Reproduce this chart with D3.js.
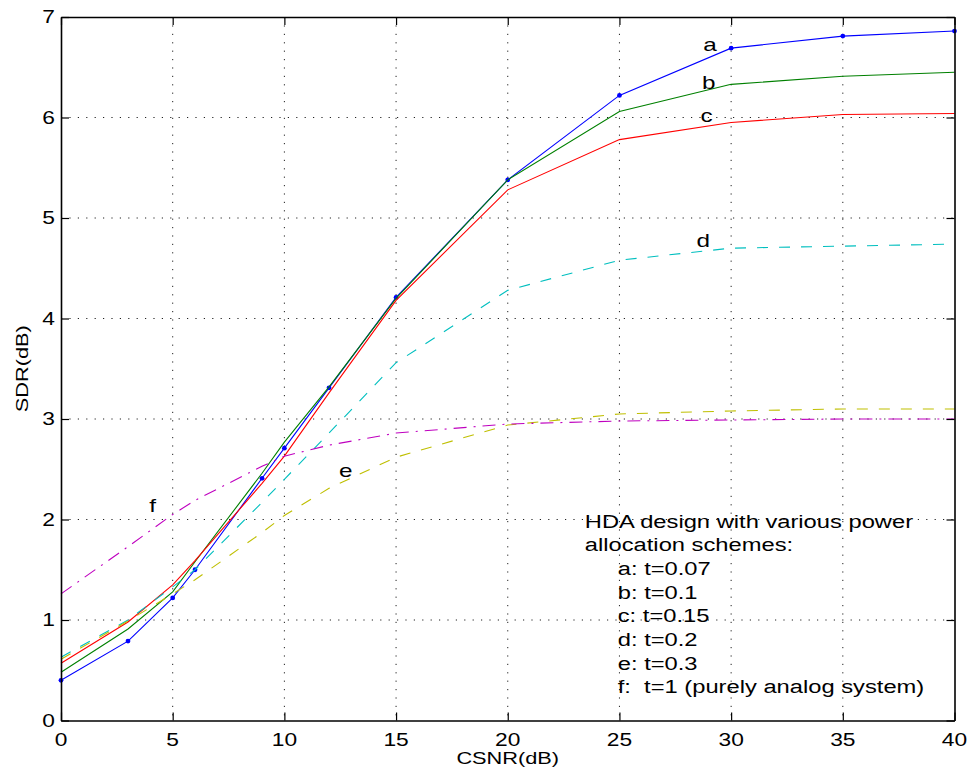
<!DOCTYPE html>
<html>
<head>
<meta charset="utf-8">
<script src="https://cdn.jsdelivr.net/npm/d3@7"></script>
<style>
  html, body { margin: 0; padding: 0; background: #fff; }
  svg text { font-family: "Liberation Sans", Arial, Helvetica, sans-serif; fill: #000; white-space: pre; }
</style>
</head>
<body>
<svg id="chart" width="971" height="774"></svg>
<script>
// CSNR sample points (dB)
const csnr = [0, 3, 5, 6, 9, 10, 12, 15, 20, 25, 30, 35, 40];

// SDR (dB) for each power allocation t
const sdrA = [0.40, 0.79, 1.22, 1.50, 2.41, 2.71, 3.31, 4.21, 5.38, 6.22, 6.69, 6.81, 6.86]; // t=0.07
const sdrB = [0.48, 0.91, 1.28, 1.58, 2.46, 2.77, 3.32, 4.20, 5.38, 6.06, 6.33, 6.41, 6.45]; // t=0.1
const sdrC = [0.57, 0.98, 1.35, 1.59, 2.36, 2.63, 3.26, 4.18, 5.28, 5.78, 5.95, 6.03, 6.04]; // t=0.15
const sdrD = [0.63, 1.00, 1.33, 1.50, 2.17, 2.40, 2.86, 3.56, 4.28, 4.58, 4.70, 4.72, 4.74]; // t=0.2
const sdrE = [0.61, 0.99, 1.26, 1.40, 1.87, 2.04, 2.31, 2.62, 2.94, 3.05, 3.08, 3.10, 3.10]; // t=0.3
const sdrF = [1.26, 1.73, 2.05, 2.19, 2.53, 2.63, 2.74, 2.86, 2.95, 2.98, 2.99, 3.00, 3.00]; // t=1

const xTicks = [0, 5, 10, 15, 20, 25, 30, 35, 40];
const yTicks = [0, 1, 2, 3, 4, 5, 6, 7];

const curveLabels = ["a", "b", "c", "d", "e", "f"];
// where each curve's letter sits, in (CSNR, SDR)
const labelX = [29.05, 29.0, 28.9, 28.75, 12.75, 4.1];
const labelY = [6.73, 6.35, 6.02, 4.78, 2.49, 2.14];

const legendLines = [
  "HDA design with various power",
  "allocation schemes:",
  "     a: t=0.07",
  "     b: t=0.1",
  "     c: t=0.15",
  "     d: t=0.2",
  "     e: t=0.3",
  "     f:  t=1 (purely analog system)"
];

const series = [
  { values: sdrA, color: "#0000ff", dash: null, markers: true },
  { values: sdrB, color: "#008000", dash: null, markers: false },
  { values: sdrC, color: "#ff0000", dash: null, markers: false },
  { values: sdrD, color: "#00bfbf", dash: "11,11", markers: false },
  { values: sdrE, color: "#bfbf00", dash: "11,11", markers: false },
  { values: sdrF, color: "#bf00bf", dash: "13,7,2,7", markers: false }
];

const plotL = 61, plotR = 954.5, plotT = 17, plotB = 720.5;
const sx = 1.28; // horizontal stretch of the lettering

const svg = d3.select("#chart");
const x = d3.scaleLinear().domain([0, 40]).range([plotL, plotR]);
const y = d3.scaleLinear().domain([0, 7]).range([plotB, plotT]);

function label(g, px, py, str, size, anchor, stretch) {
  return g.append("g").attr("transform", `translate(${px},${py}) scale(${stretch || sx},1)`)
    .append("text")
    .attr("font-size", size)
    .attr("text-anchor", anchor || "start")
    .text(str);
}

// dotted grid
const grid = svg.append("g");
grid.selectAll("line.gx").data(xTicks.slice(1, -1)).join("line")
  .attr("class", "gx")
  .attr("x1", d => x(d)).attr("x2", d => x(d))
  .attr("y1", plotT).attr("y2", plotB)
  .attr("stroke", "#222").attr("stroke-width", 1)
  .attr("stroke-dasharray", "1.2,7.2");
grid.selectAll("line.gy").data(yTicks.slice(1, -1)).join("line")
  .attr("class", "gy")
  .attr("x1", plotL).attr("x2", plotR)
  .attr("y1", d => y(d)).attr("y2", d => y(d))
  .attr("stroke", "#222").attr("stroke-width", 1)
  .attr("stroke-dasharray", "1.2,7.2");

// curves
const line = d3.line().x((d, i) => x(csnr[i])).y(d => y(d));
const curves = svg.append("g");
series.forEach(s => {
  curves.append("path")
    .attr("d", line(s.values))
    .attr("fill", "none")
    .attr("stroke", s.color)
    .attr("stroke-width", 1.1)
    .attr("stroke-dasharray", s.dash);
  if (s.markers) {
    curves.append("g").selectAll("circle").data(s.values).join("circle")
      .attr("cx", (d, i) => x(csnr[i])).attr("cy", d => y(d))
      .attr("r", 2.4).attr("fill", s.color);
  }
});

// axes: ticks inside on all four sides
const tl = 8;
const axB = svg.append("g").attr("transform", `translate(0,${plotB})`)
  .call(d3.axisBottom(x).tickValues(xTicks).tickSizeInner(-tl).tickSizeOuter(0).tickFormat(""));
const axT = svg.append("g").attr("transform", `translate(0,${plotT})`)
  .call(d3.axisTop(x).tickValues(xTicks).tickSizeInner(-tl).tickSizeOuter(0).tickFormat(""));
const axL = svg.append("g").attr("transform", `translate(${plotL},0)`)
  .call(d3.axisLeft(y).tickValues(yTicks).tickSizeInner(-tl).tickSizeOuter(0).tickFormat(""));
const axR = svg.append("g").attr("transform", `translate(${plotR},0)`)
  .call(d3.axisRight(y).tickValues(yTicks).tickSizeInner(-tl).tickSizeOuter(0).tickFormat(""));
[axB, axT, axL, axR].forEach(a => {
  a.select(".domain").attr("stroke", "#000").attr("stroke-width", 1.6);
  a.selectAll(".tick line").attr("stroke", "#000").attr("stroke-width", 1.2);
});

// tick labels
const tickText = svg.append("g");
xTicks.forEach(v => label(tickText, x(v), 746, String(v), 17.8, "middle"));
yTicks.forEach(v => label(tickText, 55, y(v) + 6.4, String(v), 17.8, "end"));

// axis titles
label(svg, (plotL + plotR) / 2, 764, "CSNR(dB)", 17, "middle");
svg.append("g").attr("transform", `translate(28,${(plotT + plotB) / 2}) rotate(-90) scale(${sx},1)`)
  .append("text").attr("font-size", 17).attr("text-anchor", "middle").text("SDR(dB)");

// curve letters
const letters = svg.append("g");
curveLabels.forEach((l, i) => {
  label(letters, x(labelX[i]), y(labelY[i]) + 6.5, l, 19, "middle");
});

// explanatory note
const note = svg.append("g");
const noteX = x(23.45), noteY = y(1.92);
legendLines.forEach((s, i) => {
  label(note, noteX, noteY + i * 23.7, s, 18.4, "start", 1.29);
});
</script>
</body>
</html>
